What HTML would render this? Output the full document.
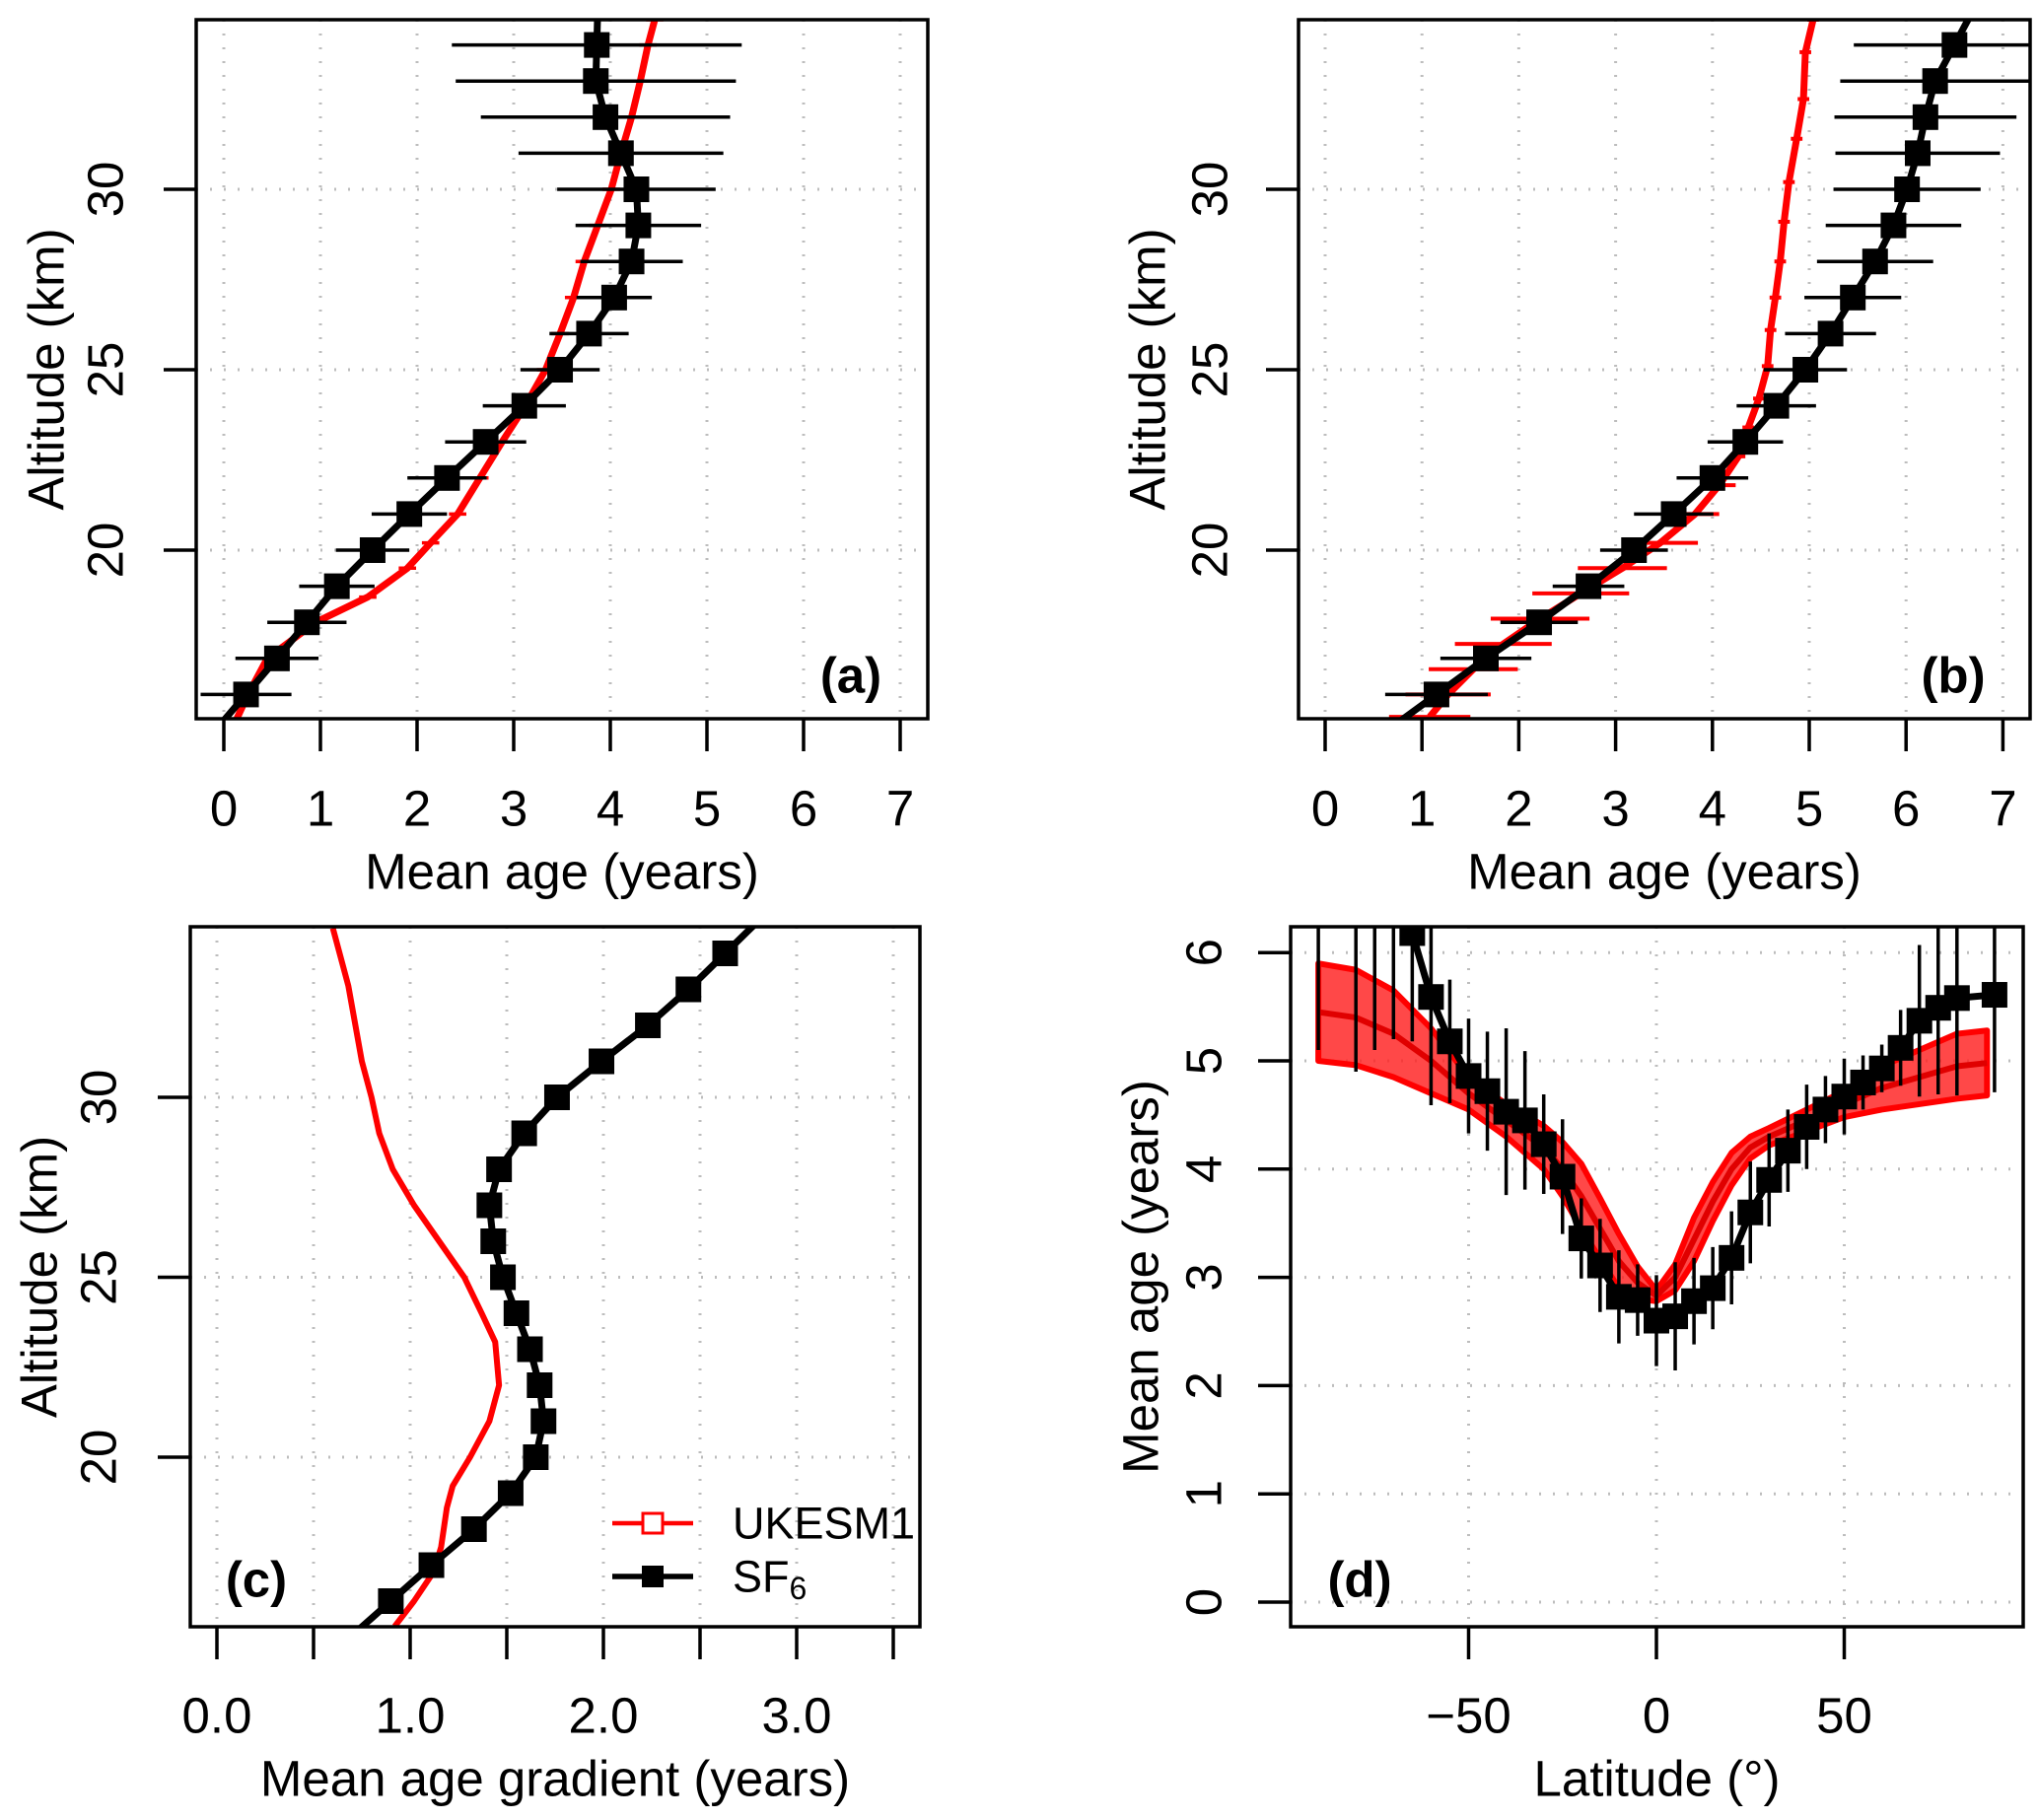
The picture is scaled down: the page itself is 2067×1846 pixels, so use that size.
<!DOCTYPE html>
<html><head><meta charset="utf-8"><style>
html,body{margin:0;padding:0;background:#fff;}
svg{display:block;font-family:"Liberation Sans",Arial,sans-serif;}
</style></head><body>
<svg id="fig" width="2067" height="1846" viewBox="0 0 2067 1846" xmlns="http://www.w3.org/2000/svg">
<defs>
<clipPath id="clipA"><rect x="199" y="20" width="742" height="709"/></clipPath>
<clipPath id="clipB"><rect x="1317" y="20" width="742" height="709"/></clipPath>
<clipPath id="clipC"><rect x="193" y="940" width="740" height="710"/></clipPath>
<clipPath id="clipD"><rect x="1309" y="940" width="743" height="710"/></clipPath>
</defs>
</svg>
<script>
// ---- data ----
const aAlt=[16,17,18,19,20,21,22,23,24,25,26,27,28,29,30,31,32,33,34];
const aSf6=[0.23,0.55,0.86,1.17,1.54,1.92,2.31,2.71,3.11,3.48,3.78,4.04,4.22,4.29,4.27,4.11,3.95,3.85,3.86];
const aSf6Err=[0.47,0.43,0.41,0.39,0.38,0.39,0.41,0.42,0.43,0.41,0.41,0.39,0.53,0.65,0.82,1.06,1.29,1.45,1.5];
const aModAlt=[15.3,16,17,18,18.7,19.5,20.2,21,22,23,24,25,26,27,28,29,30,31,32,33,34,34.7];
const aModAge=[0.13,0.25,0.45,0.95,1.49,1.9,2.14,2.42,2.65,2.88,3.12,3.33,3.48,3.62,3.73,3.87,4.01,4.11,4.22,4.31,4.39,4.46];

const bAlt=[16,17,18,19,20,21,22,23,24,25,26,27,28,29,30,31,32,33,34];
const bSf6=[1.15,1.66,2.21,2.72,3.19,3.6,4.0,4.34,4.66,4.96,5.22,5.45,5.68,5.87,6.01,6.12,6.2,6.3,6.5];
const bSf6Err=[0.53,0.47,0.4,0.37,0.35,0.41,0.37,0.39,0.41,0.43,0.47,0.5,0.6,0.7,0.76,0.85,0.94,0.98,1.04];
const bModAlt=[15.38,16.0,16.7,17.4,18.1,18.8,19.5,20.2,21.0,21.8,22.6,23.4,24.2,25.1,26.1,27.0,28.0,29.1,30.2,31.4,32.5,33.8,34.7];
const bModAge=[1.08,1.27,1.53,1.84,2.22,2.64,3.07,3.46,3.82,4.07,4.27,4.37,4.48,4.57,4.6,4.65,4.7,4.74,4.79,4.87,4.94,4.96,5.04];
const bModErr=[0.42,0.44,0.46,0.5,0.51,0.5,0.46,0.39,0.25,0.17,0.07,0.06,0.06,0.06,0.06,0.06,0.06,0.06,0.06,0.06,0.06,0.06,0.06];

const cAlt=[16,17,18,19,20,21,22,23,24,25,26,27,28,29,30,31,32,33,34];
const cSf6=[0.9,1.11,1.33,1.52,1.65,1.69,1.67,1.62,1.55,1.48,1.43,1.41,1.46,1.59,1.76,1.99,2.23,2.44,2.63];
const cModAlt=[15.3,16,16.8,17.5,18.6,19.2,20,21,22,23.2,24,25,26,27,28,29,30,31,33.1,34.7];
const cModGrad=[0.92,1.02,1.12,1.16,1.19,1.22,1.31,1.41,1.46,1.44,1.37,1.28,1.15,1.02,0.91,0.84,0.8,0.75,0.68,0.6];

const dLat=[-90,-80,-75,-70,-65,-60,-55,-50,-45,-40,-35,-30,-25,-20,-15,-10,-5,0,5,10,15,20,25,30,35,40,45,50,55,60,65,70,75,80,90];
const dSf6=[6.8,6.8,6.7,6.5,6.18,5.59,5.18,4.86,4.72,4.53,4.45,4.23,3.93,3.36,3.11,2.82,2.79,2.6,2.64,2.78,2.9,3.18,3.6,3.9,4.17,4.39,4.55,4.67,4.8,4.93,5.12,5.37,5.49,5.58,5.61];
const dSf6Err=[1.7,1.9,1.6,1.3,1.0,1.0,0.57,0.53,0.55,0.77,0.64,0.46,0.53,0.37,0.43,0.43,0.33,0.42,0.5,0.4,0.38,0.43,0.47,0.43,0.38,0.39,0.31,0.35,0.25,0.22,0.35,0.7,0.8,0.9,0.9];
const dModLat=[-90,-80,-70,-60,-50,-40,-30,-25,-20,-15,-10,-5,0,5,10,15,20,25,30,40,50,60,70,80,88];
const dModAge=[5.45,5.4,5.25,5.0,4.7,4.45,4.2,4.0,3.75,3.45,3.15,2.95,2.83,3.0,3.35,3.7,4.0,4.2,4.3,4.45,4.6,4.75,4.85,4.95,4.98];
const dModErr=[0.45,0.44,0.4,0.3,0.15,0.15,0.2,0.25,0.3,0.28,0.25,0.15,0.05,0.12,0.2,0.18,0.15,0.1,0.08,0.1,0.12,0.2,0.25,0.3,0.3];

// ---- helpers ----
const NS='http://www.w3.org/2000/svg';
const svg=document.getElementById('fig');
function el(tag,attrs,parent){const e=document.createElementNS(NS,tag);for(const k in attrs)e.setAttribute(k,attrs[k]);(parent||svg).appendChild(e);return e;}
function txt(s,x,y,size,parent,extra){const t=el('text',Object.assign({x:x,y:y,'font-size':size,'text-anchor':'middle','dominant-baseline':'central',fill:'#000'},extra||{}),parent);t.textContent=s;return t;}

function panel(id,L,R,T,B,sx,sy,xt,xtLab,yt,xgrid,ygrid,xTitle,yTitle,yLabX,yTitleX,xLabY,xTitleY,tag,tagX,tagY){
  const g=el('g',{});
  
  
  const grid=el('g',{stroke:'#bdbdbd','stroke-width':3,'stroke-dasharray':'2 12'},g);
  
  
  xgrid.forEach(v=>el('line',{x1:sx(v),x2:sx(v),y1:T,y2:B},grid));
  ygrid.forEach(v=>el('line',{x1:L,x2:R,y1:sy(v),y2:sy(v)},grid));
  const xa=el('g',{},g);
  
  
  xt.forEach((v,i)=>{el('line',{x1:sx(v),x2:sx(v),y1:B,y2:B+33,stroke:'#000','stroke-width':3.5},xa);
    if(xtLab[i]!=='')txt(xtLab[i],sx(v),xLabY,51,xa);});
  const xtl=txt(xTitle,(L+R)/2,xTitleY,51,g);
  
  
  const ya=el('g',{},g);
  
  
  yt.forEach(v=>{el('line',{x1:L-33,x2:L,y1:sy(v),y2:sy(v),stroke:'#000','stroke-width':3.5},ya);
    txt(String(v),yLabX,sy(v),51,ya,{transform:'rotate(-90 '+yLabX+' '+sy(v)+')'});});
  const cy=(T+B)/2;
  const ytl=txt(yTitle,yTitleX,cy,51,g,{transform:'rotate(-90 '+yTitleX+' '+cy+')'});
  
  
  const tg=txt(tag,tagX,tagY,51,g,{'font-weight':'bold'});
  
  
  return g;
}
function frame(g,L,R,T,B,id){const f=el('rect',{x:L,y:T,width:R-L,height:B-T,fill:'none',stroke:'#000','stroke-width':3.5},g);
  }
function extendPts(p){
  const n=p.length;const a=p[0],b=p[1],c=p[n-2],d=p[n-1];
  return [[a[0]+(a[0]-b[0])*2,a[1]+(a[1]-b[1])*2]].concat(p,[[d[0]+(d[0]-c[0])*2,d[1]+(d[1]-c[1])*2]]);}
function poly(pts,attrs,parent){return el('polyline',Object.assign({points:pts.map(p=>p.join(',')).join(' '),fill:'none','stroke-linejoin':'round'},attrs),parent);}

// ---- panel a ----
(function(){
  const L=199,R=941,T=20,B=729;
  const sx=v=>227+98*v, sy=a=>192+(30-a)*36.6;
  const g=panel('a',L,R,T,B,sx,sy,[0,1,2,3,4,5,6,7],['0','1','2','3','4','5','6','7'],[20,25,30],[0,1,2,3,4,5,6,7],[20,25,30],'Mean age (years)','Altitude (km)',107,47,820,884,'(a)',863,685);
  const d=el('g',{'clip-path':'url(#clipA)'},g);
  const red=poly(aModAlt.map((a,i)=>[sx(aModAge[i]),sy(a)]),{stroke:'#ff0000','stroke-width':7},d);
  
  aModAlt.forEach((a,i)=>{const t=el('line',{x1:sx(aModAge[i]-0.09),x2:sx(aModAge[i]+0.09),y1:sy(a),y2:sy(a),stroke:'#ff0000','stroke-width':3.5},d);
    });
  aAlt.forEach((a,i)=>{const e=el('line',{x1:sx(aSf6[i]-aSf6Err[i]),x2:sx(aSf6[i]+aSf6Err[i]),y1:sy(a),y2:sy(a),stroke:'#000','stroke-width':3.5},d);
    });
  const bl=poly(extendPts(aAlt.map((a,i)=>[sx(aSf6[i]),sy(a)])),{stroke:'#000','stroke-width':7},d);
  
  aAlt.forEach((a,i)=>{const m=el('rect',{x:sx(aSf6[i])-13,y:sy(a)-13,width:26,height:26,fill:'#000'},d);
    });
  frame(g,L,R,T,B,'a');
})();

// ---- panel b ----
(function(){
  const L=1317,R=2059,T=20,B=729;
  const sx=v=>1344+98.2*v, sy=a=>192+(30-a)*36.6;
  const g=panel('b',L,R,T,B,sx,sy,[0,1,2,3,4,5,6,7],['0','1','2','3','4','5','6','7'],[20,25,30],[0,1,2,3,4,5,6,7],[20,25,30],'Mean age (years)','Altitude (km)',1227,1164,820,884,'(b)',1981,685);
  const d=el('g',{'clip-path':'url(#clipB)'},g);
  const red=poly(bModAlt.map((a,i)=>[sx(bModAge[i]),sy(a)]),{stroke:'#ff0000','stroke-width':7},d);
  
  bModAlt.forEach((a,i)=>{const t=el('line',{x1:sx(bModAge[i]-bModErr[i]),x2:sx(bModAge[i]+bModErr[i]),y1:sy(a),y2:sy(a),stroke:'#ff0000','stroke-width':4},d);
    });
  bAlt.forEach((a,i)=>{const e=el('line',{x1:sx(bSf6[i]-bSf6Err[i]),x2:sx(bSf6[i]+bSf6Err[i]),y1:sy(a),y2:sy(a),stroke:'#000','stroke-width':3.5},d);
    });
  const bl=poly(extendPts(bAlt.map((a,i)=>[sx(bSf6[i]),sy(a)])),{stroke:'#000','stroke-width':7},d);
  
  bAlt.forEach((a,i)=>{const m=el('rect',{x:sx(bSf6[i])-13,y:sy(a)-13,width:26,height:26,fill:'#000'},d);
    });
  frame(g,L,R,T,B,'b');
})();

// ---- panel c ----
(function(){
  const L=193,R=933,T=940,B=1650;
  const sx=v=>220+196*v, sy=a=>1113+(30-a)*36.5;
  const g=panel('c',L,R,T,B,sx,sy,[0,0.5,1,1.5,2,2.5,3,3.5],['0.0','','1.0','','2.0','','3.0',''],[20,25,30],[0,0.5,1,1.5,2,2.5,3,3.5],[20,25,30],'Mean age gradient (years)','Altitude (km)',100,40,1740,1804,'(c)',260,1602);
  const d=el('g',{'clip-path':'url(#clipC)'},g);
  const red=poly(cModAlt.map((a,i)=>[sx(cModGrad[i]),sy(a)]),{stroke:'#ff0000','stroke-width':6},d);
  
  const bl=poly(extendPts(cAlt.map((a,i)=>[sx(cSf6[i]),sy(a)])),{stroke:'#000','stroke-width':7},d);
  
  cAlt.forEach((a,i)=>{const m=el('rect',{x:sx(cSf6[i])-13,y:sy(a)-13,width:26,height:26,fill:'#000'},d);
    });
  frame(g,L,R,T,B,'c');
  const lg=el('g',{},g);
  
  const l1=el('g',{},lg);
  
  el('line',{x1:621,x2:703,y1:1545,y2:1545,stroke:'#ff0000','stroke-width':4.5},l1);
  el('rect',{x:652,y:1535,width:20,height:20,fill:'#fff',stroke:'#ff0000','stroke-width':3},l1);
  txt('UKESM1',743,1545,45,l1,{'text-anchor':'start'});
  const l2=el('g',{},lg);
  
  el('line',{x1:621,x2:703,y1:1599,y2:1599,stroke:'#000','stroke-width':5.5},l2);
  el('rect',{x:651,y:1588,width:22,height:22,fill:'#000'},l2);
  const t=txt('SF',743,1599,45,l2,{'text-anchor':'start'});
  const s=el('tspan',{'font-size':32,dy:12},t);s.textContent='6';
})();

// ---- panel d ----
(function(){
  const L=1309,R=2052,T=940,B=1650;
  const sx=v=>1680+3.81*v, sy=a=>1625-109.8*a;
  const g=panel('d',L,R,T,B,sx,sy,[-50,0,50],['\u221250','0','50'],[0,1,2,3,4,5,6],[-50,0,50],[0,1,2,3,4,5,6],'Latitude (\u00b0)','Mean age (years)',1221,1157,1740,1804,'(d)',1379,1602);
  const d=el('g',{'clip-path':'url(#clipD)'},g);
  const up=dModLat.map((l,i)=>[sx(l),sy(dModAge[i]+dModErr[i])]);
  const lo=dModLat.map((l,i)=>[sx(l),sy(dModAge[i]-dModErr[i])]).reverse();
  const band=el('polygon',{points:up.concat(lo).map(p=>p.join(',')).join(' '),fill:'#ff2020','fill-opacity':0.82,stroke:'#ff0000','stroke-width':6,'stroke-linejoin':'round'},d);
  
  const red=poly(dModLat.map((l,i)=>[sx(l),sy(dModAge[i])]),{stroke:'#e00000','stroke-width':6},d);
  
  dLat.forEach((l,i)=>{const e=el('line',{x1:sx(l),x2:sx(l),y1:sy(dSf6[i]-dSf6Err[i]),y2:sy(dSf6[i]+dSf6Err[i]),stroke:'#000','stroke-width':3.5},d);
    });
  const bl=poly(dLat.map((l,i)=>[sx(l),sy(dSf6[i])]),{stroke:'#000','stroke-width':7},d);
  
  dLat.forEach((l,i)=>{const m=el('rect',{x:sx(l)-13,y:sy(dSf6[i])-13,width:26,height:26,fill:'#000'},d);
    });
  frame(g,L,R,T,B,'d');
})();
</script>
</body></html>
